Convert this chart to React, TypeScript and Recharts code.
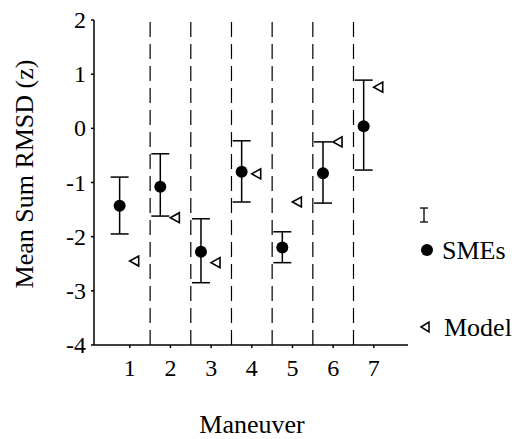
import { ScatterChart, Scatter, XAxis, YAxis, ErrorBar, ReferenceLine, Legend } from 'recharts'

const maneuvers = [1, 2, 3, 4, 5, 6, 7]
const smeMean = [-1.43, -1.08, -2.28, -0.8, -2.2, -0.83, 0.04]
const smeUpper = [-0.9, -0.47, -1.67, -0.23, -1.91, -0.25, 0.89]
const smeLower = [-1.95, -1.62, -2.85, -1.36, -2.48, -1.38, -0.77]
const modelValues = [-2.45, -1.65, -2.48, -0.84, -1.36, -0.25, 0.76]
const yTicks = [-4, -3, -2, -1, 0, 1, 2]
const dividers = [1.5, 2.5, 3.5, 4.5, 5.5, 6.5]

const font = '"Liberation Serif", "DejaVu Serif", serif'
const txt = { fontFamily: font, fill: '#000' }

// SMEs drawn a bit left of the tick, model a bit right
const smeData = maneuvers.map((m, i) => ({
  x: m - 0.25,
  y: smeMean[i],
  err: [smeMean[i] - smeLower[i], smeUpper[i] - smeMean[i]],
}))
const modelData = maneuvers.map((m, i) => ({ x: m + 0.12, y: modelValues[i] }))

const Dot = (p: any) => <circle cx={p.cx} cy={p.cy} r={6} fill="#000" />
const Tri = (p: any) => (
  <polygon
    points={`${p.cx - 5},${p.cy} ${p.cx + 4},${p.cy - 5} ${p.cx + 4},${p.cy + 5}`}
    fill="#fff"
    stroke="#000"
    strokeWidth={1.6}
  />
)

const XTick = (p: any) => (
  <text x={p.x} y={p.y + 26} textAnchor="middle" fontSize={24} style={txt}>
    {p.payload.value}
  </text>
)
const YTick = (p: any) => (
  <text x={p.x - 3} y={p.y + 8} textAnchor="end" fontSize={24} style={txt}>
    {p.payload.value}
  </text>
)

const LegendBox = () => (
  <svg width={109} height={150}>
    <line x1={14} y1={8} x2={14} y2={22} stroke="#000" strokeWidth={1.3} />
    <line x1={10} y1={8} x2={18} y2={8} stroke="#000" strokeWidth={1.3} />
    <line x1={10} y1={22} x2={18} y2={22} stroke="#000" strokeWidth={1.3} />
    <circle cx={17} cy={50} r={6} fill="#000" />
    <text x={32} y={59} fontSize={26} style={txt}>SMEs</text>
    <polygon points="11,127 19,122 19,132" fill="#fff" stroke="#000" strokeWidth={1.5} />
    <text x={34} y={136} fontSize={26} style={txt}>Model</text>
  </svg>
)

export default function App() {
  return (
    <div style={{ position: 'absolute', left: 0, top: 0, width: 519, height: 439, background: '#fff', fontFamily: font }}>
      <ScatterChart width={519} height={439} margin={{ top: 20, right: 111, bottom: 54, left: 0 }}>
        <XAxis
          type="number"
          dataKey="x"
          domain={[0.12, 7.84]}
          ticks={maneuvers}
          allowDataOverflow
          height={40}
          stroke="#000"
          strokeWidth={1.5}
          tickSize={3}
          tick={XTick}
          label={{
            content: () => (
              <text x={252} y={433} textAnchor="middle" fontSize={26} style={txt}>
                Maneuver
              </text>
            ),
          }}
        />
        <YAxis
          type="number"
          dataKey="y"
          domain={[-4, 2]}
          ticks={yTicks}
          allowDataOverflow
          width={94}
          stroke="#000"
          strokeWidth={1.5}
          tickSize={3}
          tick={YTick}
          label={{
            content: () => (
              <text
                x={24}
                y={174}
                transform="rotate(-90 24 174)"
                textAnchor="middle"
                dominantBaseline="central"
                fontSize={26}
                style={txt}
              >
                Mean Sum RMSD (z)
              </text>
            ),
          }}
        />
        {dividers.map((d) => (
          <ReferenceLine key={d} x={d} stroke="#000" strokeWidth={1.2} strokeDasharray="15 7" />
        ))}
        <Scatter data={smeData} name="SMEs" shape={Dot} isAnimationActive={false}>
          <ErrorBar dataKey="err" direction="y" width={9} stroke="#000" strokeWidth={1.5} />
        </Scatter>
        <Scatter data={modelData} name="Model" shape={Tri} isAnimationActive={false} />
        <Legend
          layout="horizontal"
          verticalAlign="middle"
          align="center"
          content={LegendBox}
          wrapperStyle={{ position: 'absolute', left: 410, top: 200, width: 109 }}
        />
      </ScatterChart>
    </div>
  )
}
